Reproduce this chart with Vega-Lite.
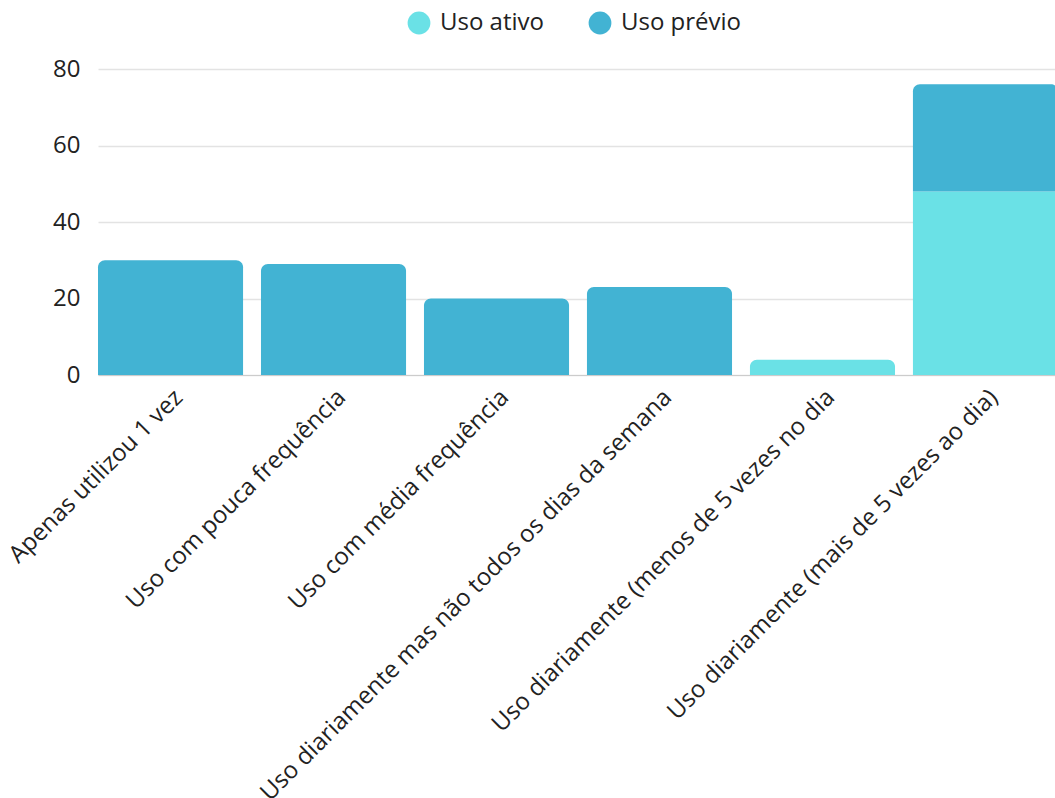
{
  "$schema": "https://vega.github.io/schema/vega-lite/v6.json",
  "width": 960,
  "height": 306,
  "autosize": {"type": "none"},
  "padding": {"left": 98, "top": 69, "right": 0, "bottom": 423},
  "background": "white",
  "config": {
    "font": "Open Sans",
    "view": {"stroke": null},
    "axis": {"labelFont": "Open Sans", "labelColor": "#222222", "labelFontSize": 24}
  },
  "data": {
    "values": [
      {"cat": "Apenas utilizou 1 vez", "serie": "Uso prévio", "value": 30},
      {"cat": "Uso com pouca frequência", "serie": "Uso prévio", "value": 29},
      {"cat": "Uso com média frequência", "serie": "Uso prévio", "value": 20},
      {"cat": "Uso diariamente mas não todos os dias da semana", "serie": "Uso prévio", "value": 23},
      {"cat": "Uso diariamente (menos de 5 vezes no dia", "serie": "Uso ativo", "value": 4},
      {"cat": "Uso diariamente (mais de 5 vezes ao dia)", "serie": "Uso ativo", "value": 48},
      {"cat": "Uso diariamente (mais de 5 vezes ao dia)", "serie": "Uso prévio", "value": 28}
    ]
  },
  "transform": [
    {"stack": "value", "groupby": ["cat"], "sort": [{"field": "serie", "order": "ascending"}], "as": ["v0", "v1"]},
    {"joinaggregate": [{"op": "max", "field": "v1", "as": "top"}], "groupby": ["cat"]}
  ],
  "encoding": {
    "x": {
      "field": "cat", "type": "nominal", "title": null,
      "sort": ["Apenas utilizou 1 vez", "Uso com pouca frequência", "Uso com média frequência", "Uso diariamente mas não todos os dias da semana", "Uso diariamente (menos de 5 vezes no dia", "Uso diariamente (mais de 5 vezes ao dia)"],
      "scale": {"paddingInner": 0.11, "paddingOuter": 0},
      "axis": {"labelAngle": -45, "ticks": false, "domain": true, "domainColor": "#cccccc", "domainWidth": 1, "labelPadding": 10, "labelLimit": 1000}
    },
    "y": {
      "field": "v1", "type": "quantitative", "title": null,
      "scale": {"domain": [0, 80]},
      "axis": {"values": [0, 20, 40, 60, 80], "ticks": false, "domain": false, "gridColor": "#e3e3e3", "gridWidth": 1.5, "labelPadding": 18}
    },
    "y2": {"field": "v0"},
    "color": {
      "field": "serie", "type": "nominal", "title": null,
      "scale": {"domain": ["Uso ativo", "Uso prévio"], "range": ["#6ae1e6", "#42b3d3"]},
      "legend": {
        "orient": "none", "legendX": 309, "legendY": -58, "direction": "horizontal", "symbolType": "circle", "symbolSize": 520,
        "symbolStrokeWidth": 0, "symbolOpacity": 1, "labelFontSize": 24, "labelColor": "#222222",
        "labelFont": "Open Sans", "labelOffset": 9, "columnPadding": 44, "padding": 0
      }
    }
  },
  "layer": [
    {
      "transform": [{"filter": "datum.v1 < datum.top"}],
      "mark": {"type": "bar"}
    },
    {
      "transform": [{"filter": "datum.v1 >= datum.top"}],
      "mark": {"type": "bar", "cornerRadiusTopLeft": 7, "cornerRadiusTopRight": 7}
    }
  ]
}
